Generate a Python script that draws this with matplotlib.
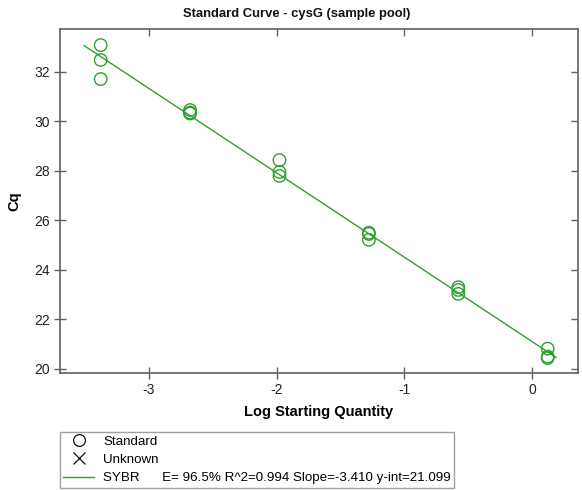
import matplotlib
matplotlib.use("Agg")
import matplotlib.pyplot as plt
from matplotlib.lines import Line2D
import numpy as np

plt.rcParams['font.family'] = ['Liberation Sans', 'DejaVu Sans']

# Data: log starting quantity and Cq (triplicates)
log_qty = [-3.375, -3.375, -3.375,
           -2.676, -2.676, -2.676,
           -1.977, -1.977, -1.977,
           -1.278, -1.278, -1.278,
           -0.579, -0.579, -0.579,
           0.120, 0.120, 0.120]
cq = [33.07, 32.47, 31.70,
      30.45, 30.35, 30.31,
      28.43, 27.95, 27.79,
      25.50, 25.21, 25.45,
      23.30, 23.19, 23.03,
      20.82, 20.50, 20.44]

slope = -3.410
intercept = 21.099
efficiency = 96.5
r2 = 0.994
fit_ext = [-0.13, 0.065]

x_ticks = [-3, -2, -1, 0]
y_ticks = [20, 22, 24, 26, 28, 30, 32]

green = '#2f9f2f'
frame_col = '#606060'

fig = plt.figure(figsize=(5.82, 4.90), dpi=100)
ax = fig.add_axes([60/582, 1 - 372.7/490, 518/582, (372.7 - 29)/490])

xs = np.array(log_qty)
fx = np.array([xs.min() + fit_ext[0], xs.max() + fit_ext[1]])
ax.plot(fx, intercept + slope * fx, color=green, lw=1.0, zorder=2)
ax.scatter(log_qty, cq, s=80, facecolors='none', edgecolors=green, linewidths=1.0, zorder=3)

ax.set_xlim(-3.693, 0.357)
ax.set_ylim(19.85, 33.72)
ax.set_xticks(x_ticks)
ax.set_yticks(y_ticks)
ax.set_xticklabels([str(t) for t in x_ticks])
ax.set_yticklabels([str(t) for t in y_ticks])

for s in ax.spines.values():
    s.set_color(frame_col)
    s.set_linewidth(1.2)
ax.tick_params(axis='both', which='major', direction='inout', length=9, width=1.0,
               color=frame_col, labelsize=10, labelcolor='#222222', pad=3)

# top / right ticks pointing inward only
secx = ax.secondary_xaxis('top')
secx.set_xticks(x_ticks)
secx.tick_params(direction='in', length=5, width=1.0, color=frame_col, labeltop=False)
secx.spines['top'].set_visible(False)
secy = ax.secondary_yaxis('right')
secy.set_yticks(y_ticks)
secy.tick_params(direction='in', length=5, width=1.0, color=frame_col, labelright=False)
secy.spines['right'].set_visible(False)

fig.text(297/582, 1 - 14/490, 'Standard Curve - cysG (sample pool)', fontsize=9.4,
         fontweight='bold', ha='center', va='center', color='#111111')
ax.set_xlabel('Log Starting Quantity', fontsize=10.5, fontweight='bold', labelpad=6)
ax.set_ylabel('Cq', fontsize=10.5, fontweight='bold', labelpad=9)

handles = [
    Line2D([], [], ls='none', marker='o', markersize=8.5, markerfacecolor='none',
           markeredgecolor='#111111', markeredgewidth=0.9),
    Line2D([], [], ls='none', marker='x', markersize=8.5, markeredgecolor='#111111',
           markeredgewidth=0.9),
    Line2D([], [], color=green, lw=1.0),
]
labels = ['Standard', 'Unknown',
          f'SYBR      E= {efficiency:.1f}% R^2={r2:.3f} Slope={slope:.3f} y-int={intercept:.3f}']
leg = fig.legend(handles, labels, loc='upper left', bbox_to_anchor=(60/582, 1 - 432/490),
                 fontsize=9.6, frameon=True, fancybox=False, edgecolor='#888888',
                 handlelength=2.3, handletextpad=0.7, labelspacing=0.45, borderpad=0.25,
                 borderaxespad=0)
leg.get_frame().set_linewidth(1.0)

fig.savefig('out.png', dpi=100)
